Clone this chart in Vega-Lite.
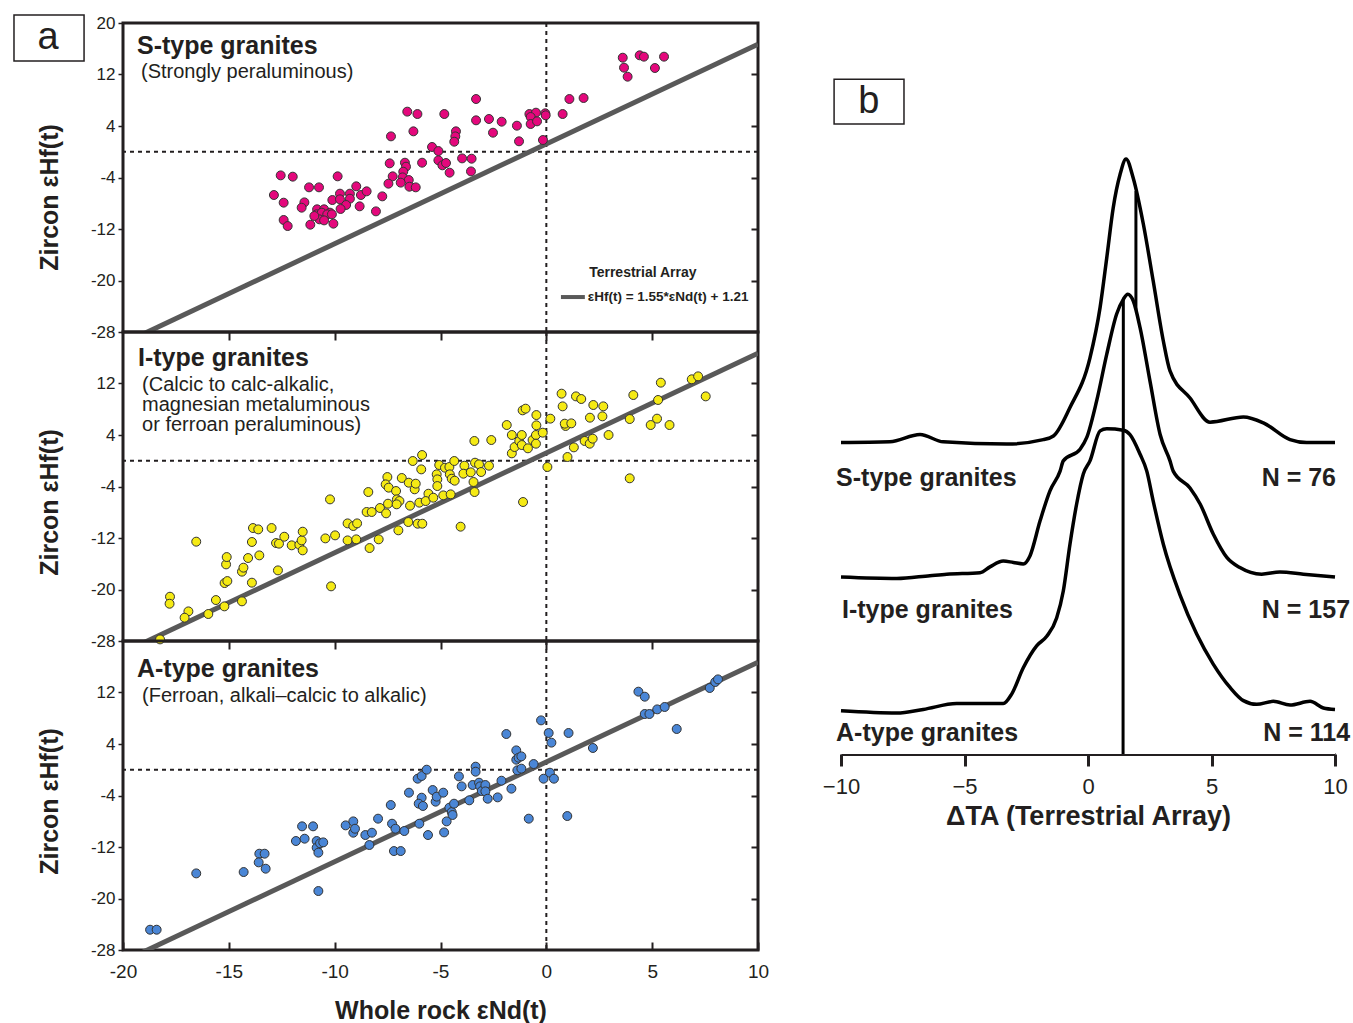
{
  "$schema": "https://vega.github.io/schema/vega-lite/v6.json",
  "background": "white",
  "padding": {"left": 11, "top": 12, "right": 5, "bottom": 0},
  "spacing": 51,
  "datasets": {
    "pts": [
      {"type":"S","x":-6.57,"y":6.23},{"type":"S","x":-6.09,"y":5.86},{"type":"S","x":-6.28,"y":3.17},{"type":"S","x":-7.34,"y":2.39},
      {"type":"S","x":-5.40,"y":0.74},{"type":"S","x":-5.10,"y":0.11},{"type":"S","x":-5.10,"y":-1.33},{"type":"S","x":-7.40,"y":-1.80},
      {"type":"S","x":-6.68,"y":-1.70},{"type":"S","x":-6.63,"y":-2.32},{"type":"S","x":-6.76,"y":-3.10},{"type":"S","x":-5.87,"y":-1.70},
      {"type":"S","x":-7.26,"y":-3.82},{"type":"S","x":-6.79,"y":-3.98},{"type":"S","x":-6.50,"y":-4.39},{"type":"S","x":-6.88,"y":-4.80},
      {"type":"S","x":-6.47,"y":-5.43},{"type":"S","x":-6.17,"y":-5.53},{"type":"S","x":-7.46,"y":-4.96},{"type":"S","x":-7.75,"y":-6.93},
      {"type":"S","x":-8.05,"y":-9.26},{"type":"S","x":-12.55,"y":-3.67},{"type":"S","x":-11.98,"y":-3.87},{"type":"S","x":-9.86,"y":-3.82},
      {"type":"S","x":-11.21,"y":-5.53},{"type":"S","x":-10.74,"y":-5.53},{"type":"S","x":-8.98,"y":-5.37},{"type":"S","x":-12.87,"y":-6.72},
      {"type":"S","x":-12.41,"y":-7.91},{"type":"S","x":-11.43,"y":-7.86},{"type":"S","x":-11.56,"y":-8.69},{"type":"S","x":-9.75,"y":-6.51},
      {"type":"S","x":-10.11,"y":-7.50},{"type":"S","x":-9.75,"y":-7.39},{"type":"S","x":-9.28,"y":-6.51},{"type":"S","x":-9.28,"y":-7.29},
      {"type":"S","x":-9.46,"y":-8.27},{"type":"S","x":-9.72,"y":-8.89},{"type":"S","x":-8.76,"y":-6.72},{"type":"S","x":-8.49,"y":-6.15},
      {"type":"S","x":-8.82,"y":-8.48},{"type":"S","x":-10.83,"y":-8.94},{"type":"S","x":-10.50,"y":-8.94},{"type":"S","x":-10.85,"y":-9.72},
      {"type":"S","x":-10.61,"y":-9.46},{"type":"S","x":-10.22,"y":-9.46},{"type":"S","x":-10.35,"y":-9.72},{"type":"S","x":-10.72,"y":-10.50},
      {"type":"S","x":-10.50,"y":-10.66},{"type":"S","x":-10.13,"y":-9.72},{"type":"S","x":-12.41,"y":-10.60},{"type":"S","x":-12.22,"y":-11.54},
      {"type":"S","x":-11.15,"y":-11.33},{"type":"S","x":-10.06,"y":-11.17},{"type":"S","x":-10.96,"y":-9.98},
      {"type":"S","x":3.61,"y":14.61},{"type":"S","x":3.67,"y":13.06},{"type":"S","x":3.84,"y":11.66},{"type":"S","x":4.41,"y":14.98},
      {"type":"S","x":4.61,"y":14.77},{"type":"S","x":5.13,"y":13.01},{"type":"S","x":5.56,"y":14.77},{"type":"S","x":-3.32,"y":8.19},
      {"type":"S","x":-4.82,"y":5.86},{"type":"S","x":-4.27,"y":3.17},{"type":"S","x":-4.30,"y":2.39},{"type":"S","x":-4.35,"y":1.56},
      {"type":"S","x":-3.32,"y":4.88},{"type":"S","x":-2.71,"y":5.09},{"type":"S","x":-2.52,"y":2.96},{"type":"S","x":-2.11,"y":4.67},
      {"type":"S","x":-1.39,"y":4.05},{"type":"S","x":-1.29,"y":1.62},{"type":"S","x":-0.80,"y":5.86},{"type":"S","x":-0.49,"y":6.07},
      {"type":"S","x":-0.05,"y":5.97},{"type":"S","x":-0.03,"y":5.66},{"type":"S","x":-0.74,"y":5.40},{"type":"S","x":-0.74,"y":4.31},
      {"type":"S","x":-0.44,"y":4.72},{"type":"S","x":0.77,"y":5.86},{"type":"S","x":1.09,"y":8.19},{"type":"S","x":1.76,"y":8.35},
      {"type":"S","x":-0.16,"y":1.82},{"type":"S","x":-4.91,"y":-2.11},{"type":"S","x":-4.74,"y":-1.75},{"type":"S","x":-4.57,"y":-3.25},
      {"type":"S","x":-3.98,"y":-1.03},{"type":"S","x":-3.53,"y":-1.08},{"type":"S","x":-3.56,"y":-3.05},

      {"type":"I","x":-18.25,"y":-27.75},{"type":"I","x":-17.78,"y":-21.12},{"type":"I","x":-17.80,"y":-22.21},{"type":"I","x":-16.91,"y":-23.40},
      {"type":"I","x":-17.09,"y":-24.38},{"type":"I","x":-16.54,"y":-12.57},{"type":"I","x":-15.97,"y":-23.81},{"type":"I","x":-15.61,"y":-21.64},
      {"type":"I","x":-15.21,"y":-22.62},{"type":"I","x":-15.20,"y":-19.00},{"type":"I","x":-15.07,"y":-18.69},{"type":"I","x":-15.13,"y":-16.10},
      {"type":"I","x":-15.10,"y":-14.96},{"type":"I","x":-14.38,"y":-21.84},{"type":"I","x":-13.91,"y":-18.94},{"type":"I","x":-14.38,"y":-17.23},
      {"type":"I","x":-14.31,"y":-16.61},{"type":"I","x":-14.09,"y":-15.11},{"type":"I","x":-13.91,"y":-12.62},{"type":"I","x":-13.86,"y":-10.45},
      {"type":"I","x":-13.61,"y":-10.66},{"type":"I","x":-13.56,"y":-14.70},{"type":"I","x":-12.98,"y":-10.45},{"type":"I","x":-12.68,"y":-17.03},
      {"type":"I","x":-12.77,"y":-12.78},{"type":"I","x":-12.63,"y":-12.88},{"type":"I","x":-12.38,"y":-11.80},{"type":"I","x":-12.03,"y":-13.14},
      {"type":"I","x":-11.67,"y":-13.04},{"type":"I","x":-11.56,"y":-12.37},{"type":"I","x":-11.51,"y":-11.02},{"type":"I","x":-11.51,"y":-13.92},
      {"type":"I","x":-10.22,"y":-6.00},{"type":"I","x":-10.17,"y":-19.51},{"type":"I","x":-10.44,"y":-12.06},{"type":"I","x":-9.98,"y":-11.59},
      {"type":"I","x":-9.39,"y":-9.73},{"type":"I","x":-9.12,"y":-10.14},{"type":"I","x":-8.94,"y":-9.73},{"type":"I","x":-9.39,"y":-12.37},
      {"type":"I","x":-8.98,"y":-12.21},{"type":"I","x":-8.41,"y":-4.86},{"type":"I","x":-8.49,"y":-7.96},{"type":"I","x":-8.25,"y":-7.96},
      {"type":"I","x":-8.35,"y":-13.56},{"type":"I","x":-7.92,"y":-12.21},{"type":"I","x":-7.86,"y":-7.34},{"type":"I","x":-7.57,"y":-8.17},
      {"type":"I","x":-7.48,"y":-6.67},{"type":"I","x":-7.51,"y":-2.53},{"type":"I","x":-7.59,"y":-3.67},{"type":"I","x":-7.45,"y":-4.18},
      {"type":"I","x":-7.10,"y":-4.70},{"type":"I","x":-7.06,"y":-6.00},{"type":"I","x":-6.94,"y":-6.26},{"type":"I","x":-7.07,"y":-6.77},
      {"type":"I","x":-6.99,"y":-10.81},{"type":"I","x":-6.83,"y":-2.68},{"type":"I","x":-6.50,"y":-3.41},{"type":"I","x":-6.22,"y":-4.44},
      {"type":"I","x":-6.17,"y":-3.56},{"type":"I","x":-6.44,"y":-6.98},{"type":"I","x":-6.52,"y":-9.52},{"type":"I","x":-6.08,"y":-9.78},
      {"type":"I","x":-5.86,"y":-9.78},{"type":"I","x":-6.00,"y":-6.51},{"type":"I","x":-6.31,"y":-0.04},{"type":"I","x":-5.87,"y":0.89},
      {"type":"I","x":-5.91,"y":-1.34},{"type":"I","x":-5.57,"y":-5.12},{"type":"I","x":-5.70,"y":-6.26},{"type":"I","x":-5.34,"y":-5.74},
      {"type":"I","x":-5.18,"y":-2.11},{"type":"I","x":-5.15,"y":-2.89},{"type":"I","x":-5.15,"y":-3.93},{"type":"I","x":-5.06,"y":-0.66},
      {"type":"I","x":-4.79,"y":-1.08},{"type":"I","x":-4.58,"y":-0.97},{"type":"I","x":-4.35,"y":-0.04},{"type":"I","x":-4.56,"y":-2.11},
      {"type":"I","x":-4.47,"y":-2.79},{"type":"I","x":-4.33,"y":-3.10},{"type":"I","x":-4.87,"y":-5.38},{"type":"I","x":-4.52,"y":-5.22},
      {"type":"I","x":-3.87,"y":-0.77},{"type":"I","x":-3.92,"y":-2.01},{"type":"I","x":-3.57,"y":-1.80},{"type":"I","x":-3.37,"y":-0.30},
      {"type":"I","x":-3.18,"y":-0.56},{"type":"I","x":-3.08,"y":-1.75},{"type":"I","x":-3.44,"y":-3.30},{"type":"I","x":-3.39,"y":-4.86},
      {"type":"I","x":-2.71,"y":-0.77},{"type":"I","x":-3.40,"y":3.07},{"type":"I","x":-2.60,"y":3.22},{"type":"I","x":-4.05,"y":-10.24},
      {"type":"I","x":-1.87,"y":5.55},{"type":"I","x":-1.63,"y":4.00},{"type":"I","x":-1.63,"y":1.15},{"type":"I","x":-1.50,"y":2.13},
      {"type":"I","x":-1.28,"y":3.07},{"type":"I","x":-1.16,"y":4.00},{"type":"I","x":-1.16,"y":2.44},{"type":"I","x":-0.87,"y":1.93},
      {"type":"I","x":-1.12,"y":7.83},{"type":"I","x":-0.98,"y":8.09},{"type":"I","x":-0.65,"y":3.22},{"type":"I","x":-0.49,"y":4.00},
      {"type":"I","x":-0.49,"y":2.65},{"type":"I","x":-0.47,"y":5.50},{"type":"I","x":-0.47,"y":7.10},{"type":"I","x":-0.17,"y":4.36},
      {"type":"I","x":-1.10,"y":-6.41},{"type":"I","x":0.05,"y":-0.97},{"type":"I","x":0.19,"y":6.54},{"type":"I","x":0.72,"y":10.42},
      {"type":"I","x":0.77,"y":8.45},{"type":"I","x":0.91,"y":5.40},{"type":"I","x":0.87,"y":5.76},{"type":"I","x":1.18,"y":5.81},
      {"type":"I","x":1.00,"y":0.58},{"type":"I","x":1.30,"y":2.08},{"type":"I","x":1.40,"y":10.00},{"type":"I","x":1.65,"y":9.59},
      {"type":"I","x":1.81,"y":3.07},{"type":"I","x":2.05,"y":2.65},{"type":"I","x":2.19,"y":3.43},{"type":"I","x":2.06,"y":6.69},
      {"type":"I","x":2.22,"y":8.66},{"type":"I","x":2.65,"y":6.90},{"type":"I","x":2.69,"y":8.45},{"type":"I","x":2.94,"y":4.00},
      {"type":"I","x":3.94,"y":-2.73},{"type":"I","x":3.94,"y":6.48},{"type":"I","x":4.11,"y":10.21},{"type":"I","x":4.93,"y":5.55},
      {"type":"I","x":5.23,"y":6.54},{"type":"I","x":5.28,"y":9.44},{"type":"I","x":5.41,"y":12.13},{"type":"I","x":5.82,"y":5.55},
      {"type":"I","x":6.87,"y":12.65},{"type":"I","x":7.17,"y":13.11},{"type":"I","x":7.53,"y":10.00},

      {"type":"A","x":-18.72,"y":-24.85},{"type":"A","x":-18.41,"y":-24.85},{"type":"A","x":-16.54,"y":-16.10},{"type":"A","x":-14.30,"y":-15.89},
      {"type":"A","x":-13.56,"y":-13.04},{"type":"A","x":-13.31,"y":-13.04},{"type":"A","x":-13.59,"y":-14.39},{"type":"A","x":-13.26,"y":-15.37},
      {"type":"A","x":-11.83,"y":-11.07},{"type":"A","x":-11.54,"y":-8.79},{"type":"A","x":-11.42,"y":-10.71},{"type":"A","x":-11.02,"y":-8.79},
      {"type":"A","x":-10.85,"y":-11.07},{"type":"A","x":-10.85,"y":-12.11},{"type":"A","x":-10.69,"y":-11.43},{"type":"A","x":-10.54,"y":-11.28},
      {"type":"A","x":-10.77,"y":-12.88},{"type":"A","x":-10.77,"y":-18.84},{"type":"A","x":-9.48,"y":-8.64},{"type":"A","x":-9.12,"y":-8.02},
      {"type":"A","x":-9.12,"y":-9.78},{"type":"A","x":-9.04,"y":-9.16},{"type":"A","x":-8.55,"y":-10.14},{"type":"A","x":-8.24,"y":-9.78},
      {"type":"A","x":-8.36,"y":-11.69},{"type":"A","x":-7.95,"y":-7.60},{"type":"A","x":-7.35,"y":-5.48},{"type":"A","x":-7.29,"y":-8.38},
      {"type":"A","x":-7.13,"y":-9.16},{"type":"A","x":-6.71,"y":-9.52},{"type":"A","x":-7.20,"y":-12.63},{"type":"A","x":-6.88,"y":-12.63},
      {"type":"A","x":-6.49,"y":-3.56},{"type":"A","x":-6.08,"y":-1.39},{"type":"A","x":-5.89,"y":-0.97},{"type":"A","x":-5.65,"y":0.01},
      {"type":"A","x":-5.89,"y":-4.34},{"type":"A","x":-6.03,"y":-5.27},{"type":"A","x":-5.83,"y":-5.63},{"type":"A","x":-6.00,"y":-8.38},
      {"type":"A","x":-5.59,"y":-10.14},{"type":"A","x":-5.37,"y":-3.15},{"type":"A","x":-5.23,"y":-4.96},{"type":"A","x":-5.18,"y":-4.18},
      {"type":"A","x":-4.87,"y":-3.56},{"type":"A","x":-4.83,"y":-9.73},{"type":"A","x":-4.71,"y":-8.02},{"type":"A","x":-4.58,"y":-5.89},
      {"type":"A","x":-4.47,"y":-6.57},{"type":"A","x":-4.43,"y":-7.03},{"type":"A","x":-4.36,"y":-5.27},{"type":"A","x":-4.13,"y":-1.03},
      {"type":"A","x":-4.00,"y":-2.58},{"type":"A","x":-3.64,"y":-4.75},{"type":"A","x":-3.48,"y":-2.37},{"type":"A","x":-3.34,"y":0.48},
      {"type":"A","x":-3.34,"y":-0.30},{"type":"A","x":-3.18,"y":-2.01},{"type":"A","x":-3.13,"y":-2.58},{"type":"A","x":-3.05,"y":-3.30},
      {"type":"A","x":-2.88,"y":-2.37},{"type":"A","x":-2.88,"y":-3.36},{"type":"A","x":-2.77,"y":-4.50},{"type":"A","x":-2.30,"y":-4.29},
      {"type":"A","x":-2.12,"y":-1.70},{"type":"A","x":-1.89,"y":5.55},{"type":"A","x":-1.65,"y":-2.94},{"type":"A","x":-1.42,"y":3.01},
      {"type":"A","x":-1.42,"y":1.56},{"type":"A","x":-1.31,"y":1.87},{"type":"A","x":-1.18,"y":2.08},{"type":"A","x":-1.37,"y":-0.09},
      {"type":"A","x":-1.18,"y":0.17},{"type":"A","x":-0.83,"y":-7.60},{"type":"A","x":-0.60,"y":0.89},{"type":"A","x":-0.25,"y":7.67},
      {"type":"A","x":-0.13,"y":-1.39},{"type":"A","x":0.11,"y":5.71},{"type":"A","x":0.24,"y":4.21},{"type":"A","x":0.17,"y":-0.46},
      {"type":"A","x":0.36,"y":-1.39},{"type":"A","x":1.05,"y":5.71},{"type":"A","x":0.99,"y":-7.19},{"type":"A","x":2.20,"y":3.38},
      {"type":"A","x":4.35,"y":12.13},{"type":"A","x":4.65,"y":11.35},{"type":"A","x":4.65,"y":8.66},{"type":"A","x":4.87,"y":8.66},
      {"type":"A","x":5.24,"y":9.38},{"type":"A","x":5.59,"y":9.75},{"type":"A","x":6.16,"y":6.33},{"type":"A","x":7.72,"y":12.70},
      {"type":"A","x":7.98,"y":13.63},{"type":"A","x":8.11,"y":14.04}
    ],
    "ta": [{"x": -20, "y": -29.79}, {"x": 10, "y": 16.71}],
    "dens": [
      {"s":"S","x":-10.0,"y":42.6},{"s":"S","x":-8.02,"y":42.7},{"s":"S","x":-6.8,"y":43.7},{"s":"S","x":-5.86,"y":42.7},
      {"s":"S","x":-3.29,"y":42.4},{"s":"S","x":-1.81,"y":43.0},{"s":"S","x":-1.40,"y":43.5},{"s":"S","x":-0.73,"y":47.4},
      {"s":"S","x":0.08,"y":54.2},{"s":"S","x":0.49,"y":61.1},{"s":"S","x":0.76,"y":67.9},{"s":"S","x":1.02,"y":74.7},
      {"s":"S","x":1.30,"y":79.3},{"s":"S","x":1.54,"y":81.4},{"s":"S","x":1.83,"y":78.8},{"s":"S","x":2.24,"y":72.5},
      {"s":"S","x":2.64,"y":64.7},{"s":"S","x":3.05,"y":56.5},{"s":"S","x":3.32,"y":52.4},{"s":"S","x":4.13,"y":48.7},
      {"s":"S","x":4.94,"y":45.4},{"s":"S","x":6.29,"y":46.1},{"s":"S","x":7.10,"y":45.3},{"s":"S","x":8.18,"y":43.0},
      {"s":"S","x":8.85,"y":42.6},{"s":"S","x":10.0,"y":42.6},
      {"s":"I","x":-10.0,"y":24.2},{"s":"I","x":-7.74,"y":24.0},{"s":"I","x":-6.40,"y":24.4},{"s":"I","x":-5.72,"y":24.6},
      {"s":"I","x":-4.37,"y":24.8},{"s":"I","x":-3.97,"y":25.6},{"s":"I","x":-3.43,"y":26.4},{"s":"I","x":-3.02,"y":26.2},
      {"s":"I","x":-2.62,"y":26.0},{"s":"I","x":-2.35,"y":27.1},{"s":"I","x":-1.94,"y":31.9},{"s":"I","x":-1.54,"y":36.0},
      {"s":"I","x":-1.13,"y":38.7},{"s":"I","x":-1.00,"y":40.1},{"s":"I","x":-0.32,"y":41.7},{"s":"I","x":-0.05,"y":43.3},
      {"s":"I","x":0.35,"y":48.3},{"s":"I","x":0.76,"y":54.7},{"s":"I","x":1.16,"y":60.2},{"s":"I","x":1.43,"y":62.2},
      {"s":"I","x":1.61,"y":62.9},{"s":"I","x":1.83,"y":62.0},{"s":"I","x":2.11,"y":58.3},{"s":"I","x":2.51,"y":51.0},
      {"s":"I","x":2.92,"y":43.7},{"s":"I","x":3.32,"y":40.1},{"s":"I","x":3.45,"y":38.7},{"s":"I","x":4.13,"y":36.4},
      {"s":"I","x":4.54,"y":34.2},{"s":"I","x":5.07,"y":30.1},{"s":"I","x":5.62,"y":26.9},{"s":"I","x":6.15,"y":25.5},
      {"s":"I","x":7.03,"y":24.6},{"s":"I","x":7.77,"y":24.9},{"s":"I","x":8.72,"y":24.6},{"s":"I","x":10.0,"y":24.2},
      {"s":"A","x":-10.0,"y":5.9},{"s":"A","x":-7.74,"y":5.6},{"s":"A","x":-6.67,"y":6.1},{"s":"A","x":-5.32,"y":6.9},
      {"s":"A","x":-3.43,"y":6.9},{"s":"A","x":-3.09,"y":8.2},{"s":"A","x":-2.62,"y":11.8},{"s":"A","x":-2.08,"y":14.8},
      {"s":"A","x":-1.67,"y":16.1},{"s":"A","x":-1.27,"y":18.6},{"s":"A","x":-1.00,"y":22.3},{"s":"A","x":-0.73,"y":28.7},
      {"s":"A","x":-0.46,"y":34.2},{"s":"A","x":-0.19,"y":38.3},{"s":"A","x":0.08,"y":40.1},{"s":"A","x":0.49,"y":44.2},
      {"s":"A","x":0.76,"y":44.5},{"s":"A","x":1.43,"y":44.3},{"s":"A","x":1.70,"y":43.7},{"s":"A","x":2.11,"y":41.0},
      {"s":"A","x":2.38,"y":38.7},{"s":"A","x":2.64,"y":34.6},{"s":"A","x":3.05,"y":28.7},{"s":"A","x":3.72,"y":21.8},
      {"s":"A","x":4.40,"y":16.4},{"s":"A","x":5.07,"y":12.3},{"s":"A","x":5.75,"y":9.1},{"s":"A","x":6.29,"y":7.3},
      {"s":"A","x":6.83,"y":6.8},{"s":"A","x":7.50,"y":7.2},{"s":"A","x":8.18,"y":6.7},{"s":"A","x":8.99,"y":7.2},
      {"s":"A","x":9.53,"y":6.3},{"s":"A","x":10.0,"y":6.1}
    ],
    "med": [
      {"s":"S","x":1.94,"lo":42.6,"hi":77.0},
      {"s":"I","x":1.43,"lo":24.2,"hi":62.2},
      {"s":"A","x":1.42,"lo":0,"hi":44.3}
    ]
  },
  "hconcat": [
    {
      "spacing": 0,
      "bounds": "flush",
      "vconcat": [
        {
          "width": 635, "height": 309,
          "view": {"stroke": "#231f20", "strokeWidth": 3},
          "resolve": {"axis": {"x": "independent", "y": "independent"}},
          "layer": [
            {"data": {"values": [{}]}, "mark": {"type": "rule", "strokeDash": [4, 4], "strokeWidth": 2, "color": "#231f20"},
             "encoding": {"x": {"datum": 0, "type": "quantitative", "scale": {"domain": [-20, 10], "nice": false, "zero": false}, "axis": null}}},
            {"data": {"values": [{}]}, "mark": {"type": "rule", "strokeDash": [4, 4], "strokeWidth": 2, "color": "#231f20"},
             "encoding": {"y": {"datum": 0, "type": "quantitative", "scale": {"domain": [-28, 20], "nice": false, "zero": false}, "axis": null}}},
            {"data": {"name": "ta"}, "mark": {"type": "line", "color": "#595959", "strokeWidth": 5, "clip": true},
             "encoding": {
               "x": {"field": "x", "type": "quantitative", "scale": {"domain": [-20, 10], "nice": false, "zero": false}, "axis": null},
               "y": {"field": "y", "type": "quantitative", "scale": {"domain": [-28, 20], "nice": false, "zero": false},
                     "axis": {"orient": "right", "values": [-20, -12, -4, 4, 12], "labels": false, "domain": false, "tickSize": -7, "tickWidth": 2, "title": null, "grid": false}}}},
            {"data": {"name": "pts"}, "transform": [{"filter": "datum.type === 'S'"}],
             "mark": {"type": "circle", "size": 80, "color": "#e4087c", "stroke": "#333333", "strokeWidth": 1, "opacity": 1},
             "encoding": {
               "x": {"field": "x", "type": "quantitative", "scale": {"domain": [-20, 10], "nice": false, "zero": false}, "axis": null},
               "y": {"field": "y", "type": "quantitative", "scale": {"domain": [-28, 20], "nice": false, "zero": false},
                     "axis": {"orient": "left", "values": [-28, -20, -12, -4, 4, 12, 20], "tickSize": 5, "tickWidth": 1.5, "domain": false, "grid": false,
                              "labelFontSize": 17, "labelPadding": 3, "labelExpr": "datum.value < 0 ? '-' + abs(datum.value) : '' + datum.value",
                              "title": "Zircon εHf(t)", "titleFontSize": 25, "titleFontWeight": "bold", "titlePadding": 28, "titleY": 174}}}},
            {"data": {"values": [{}]}, "mark": {"type": "text", "text": "S-type granites", "align": "left", "baseline": "middle", "fontSize": 25, "fontWeight": "bold", "clip": false},
             "encoding": {"x": {"datum": -19.34, "axis": null}, "y": {"datum": 16.43, "axis": null}}},
            {"data": {"values": [{}]}, "mark": {"type": "text", "text": "(Strongly peraluminous)", "align": "left", "baseline": "middle", "fontSize": 20, "clip": false},
             "encoding": {"x": {"datum": -19.15, "axis": null}, "y": {"datum": 12.4, "axis": null}}},
            {"data": {"values": [{}]}, "mark": {"type": "text", "text": "Terrestrial Array", "align": "center", "baseline": "middle", "fontSize": 14, "fontWeight": "bold", "clip": false},
             "encoding": {"x": {"datum": 4.56, "axis": null}, "y": {"datum": -18.84, "axis": null}}},
            {"data": {"values": [{}]}, "mark": {"type": "rule", "color": "#595959", "strokeWidth": 4},
             "encoding": {"x": {"datum": 0.69, "axis": null}, "x2": {"datum": 1.82}, "y": {"datum": -22.57, "axis": null}}},
            {"data": {"values": [{}]}, "mark": {"type": "text", "text": "εHf(t) = 1.55*εNd(t) + 1.21", "align": "left", "baseline": "middle", "fontSize": 13.5, "fontWeight": "bold", "clip": false},
             "encoding": {"x": {"datum": 1.96, "axis": null}, "y": {"datum": -22.57, "axis": null}}},
            {"data": {"values": [{}]}, "mark": {"type": "rect", "fill": "white", "stroke": "#231f20", "strokeWidth": 1.5, "clip": false},
             "encoding": {"x": {"datum": -25.15, "axis": null}, "x2": {"datum": -21.84}, "y": {"datum": 21.24, "axis": null}, "y2": {"datum": 14.10}}},
            {"data": {"values": [{}]}, "mark": {"type": "text", "text": "a", "align": "center", "baseline": "middle", "fontSize": 38, "clip": false},
             "encoding": {"x": {"datum": -23.54, "axis": null}, "y": {"datum": 17.7, "axis": null}}}
          ]
        },
        {
          "width": 635, "height": 309,
          "view": {"stroke": "#231f20", "strokeWidth": 3},
          "resolve": {"axis": {"x": "independent", "y": "independent"}},
          "layer": [
            {"data": {"values": [{}]}, "mark": {"type": "rule", "strokeDash": [4, 4], "strokeWidth": 2, "color": "#231f20"},
             "encoding": {"x": {"datum": 0, "type": "quantitative", "scale": {"domain": [-20, 10], "nice": false, "zero": false}, "axis": null}}},
            {"data": {"values": [{}]}, "mark": {"type": "rule", "strokeDash": [4, 4], "strokeWidth": 2, "color": "#231f20"},
             "encoding": {"y": {"datum": 0, "type": "quantitative", "scale": {"domain": [-28, 20], "nice": false, "zero": false}, "axis": null}}},
            {"data": {"name": "ta"}, "mark": {"type": "line", "color": "#595959", "strokeWidth": 5, "clip": true},
             "encoding": {
               "x": {"field": "x", "type": "quantitative", "scale": {"domain": [-20, 10], "nice": false, "zero": false},
                     "axis": {"orient": "top", "values": [-15, -10, -5, 0, 5], "labels": false, "domain": false, "tickSize": -8, "tickWidth": 2, "title": null, "grid": false}},
               "y": {"field": "y", "type": "quantitative", "scale": {"domain": [-28, 20], "nice": false, "zero": false},
                     "axis": {"orient": "right", "values": [-20, -12, -4, 4, 12], "labels": false, "domain": false, "tickSize": -7, "tickWidth": 2, "title": null, "grid": false}}}},
            {"data": {"name": "pts"}, "transform": [{"filter": "datum.type === 'I'"}],
             "mark": {"type": "circle", "size": 80, "color": "#f5ea14", "stroke": "#333333", "strokeWidth": 1, "opacity": 1},
             "encoding": {
               "x": {"field": "x", "type": "quantitative", "scale": {"domain": [-20, 10], "nice": false, "zero": false}, "axis": null},
               "y": {"field": "y", "type": "quantitative", "scale": {"domain": [-28, 20], "nice": false, "zero": false},
                     "axis": {"orient": "left", "values": [-28, -20, -12, -4, 4, 12], "tickSize": 5, "tickWidth": 1.5, "domain": false, "grid": false,
                              "labelFontSize": 17, "labelPadding": 3, "labelExpr": "datum.value < 0 ? '-' + abs(datum.value) : '' + datum.value",
                              "title": "Zircon εHf(t)", "titleFontSize": 25, "titleFontWeight": "bold", "titlePadding": 28, "titleY": 170}}}},
            {"data": {"values": [{}]}, "mark": {"type": "text", "text": "I-type granites", "align": "left", "baseline": "middle", "fontSize": 25, "fontWeight": "bold", "clip": false},
             "encoding": {"x": {"datum": -19.29, "axis": null}, "y": {"datum": 15.96, "axis": null}}},
            {"data": {"values": [{}]}, "mark": {"type": "text", "text": "(Calcic to calc-alkalic,", "align": "left", "baseline": "middle", "fontSize": 20, "clip": false},
             "encoding": {"x": {"datum": -19.1, "axis": null}, "y": {"datum": 11.77, "axis": null}}},
            {"data": {"values": [{}]}, "mark": {"type": "text", "text": "magnesian metaluminous", "align": "left", "baseline": "middle", "fontSize": 20, "clip": false},
             "encoding": {"x": {"datum": -19.1, "axis": null}, "y": {"datum": 8.66, "axis": null}}},
            {"data": {"values": [{}]}, "mark": {"type": "text", "text": "or ferroan peraluminous)", "align": "left", "baseline": "middle", "fontSize": 20, "clip": false},
             "encoding": {"x": {"datum": -19.1, "axis": null}, "y": {"datum": 5.55, "axis": null}}}
          ]
        },
        {
          "width": 635, "height": 309,
          "view": {"stroke": "#231f20", "strokeWidth": 3},
          "resolve": {"axis": {"x": "independent", "y": "independent"}},
          "layer": [
            {"data": {"values": [{}]}, "mark": {"type": "rule", "strokeDash": [4, 4], "strokeWidth": 2, "color": "#231f20"},
             "encoding": {"x": {"datum": 0, "type": "quantitative", "scale": {"domain": [-20, 10], "nice": false, "zero": false}, "axis": null}}},
            {"data": {"values": [{}]}, "mark": {"type": "rule", "strokeDash": [4, 4], "strokeWidth": 2, "color": "#231f20"},
             "encoding": {"y": {"datum": 0, "type": "quantitative", "scale": {"domain": [-28, 20], "nice": false, "zero": false}, "axis": null}}},
            {"data": {"name": "ta"}, "mark": {"type": "line", "color": "#595959", "strokeWidth": 5, "clip": true},
             "encoding": {
               "x": {"field": "x", "type": "quantitative", "scale": {"domain": [-20, 10], "nice": false, "zero": false},
                     "axis": {"orient": "top", "values": [-15, -10, -5, 0, 5], "labels": false, "domain": false, "tickSize": -8, "tickWidth": 2, "title": null, "grid": false}},
               "y": {"field": "y", "type": "quantitative", "scale": {"domain": [-28, 20], "nice": false, "zero": false},
                     "axis": {"orient": "right", "values": [-20, -12, -4, 4, 12], "labels": false, "domain": false, "tickSize": -7, "tickWidth": 2, "title": null, "grid": false}}}},
            {"data": {"name": "pts"}, "transform": [{"filter": "datum.type === 'A'"}],
             "mark": {"type": "circle", "size": 80, "color": "#4a86d6", "stroke": "#333333", "strokeWidth": 1, "opacity": 1},
             "encoding": {
               "x": {"field": "x", "type": "quantitative", "scale": {"domain": [-20, 10], "nice": false, "zero": false},
                     "axis": {"orient": "bottom", "values": [-20, -15, -10, -5, 0, 5, 10], "tickSize": -8, "tickWidth": 2, "domain": false, "grid": false,
                              "labelFontSize": 19, "labelPadding": 20, "labelFlush": false, "labelOverlap": false,
                              "labelExpr": "datum.value < 0 ? '-' + abs(datum.value) : '' + datum.value",
                              "title": "Whole rock εNd(t)", "titleFontSize": 25, "titleFontWeight": "bold", "titlePadding": 17}},
               "y": {"field": "y", "type": "quantitative", "scale": {"domain": [-28, 20], "nice": false, "zero": false},
                     "axis": {"orient": "left", "values": [-28, -20, -12, -4, 4, 12], "tickSize": 5, "tickWidth": 1.5, "domain": false, "grid": false,
                              "labelFontSize": 17, "labelPadding": 3, "labelExpr": "datum.value < 0 ? '-' + abs(datum.value) : '' + datum.value",
                              "title": "Zircon εHf(t)", "titleFontSize": 25, "titleFontWeight": "bold", "titlePadding": 28, "titleY": 160}}}},
            {"data": {"values": [{}]}, "mark": {"type": "text", "text": "A-type granites", "align": "left", "baseline": "middle", "fontSize": 25, "fontWeight": "bold", "clip": false},
             "encoding": {"x": {"datum": -19.34, "axis": null}, "y": {"datum": 15.65, "axis": null}}},
            {"data": {"values": [{}]}, "mark": {"type": "text", "text": "(Ferroan, alkali–calcic to alkalic)", "align": "left", "baseline": "middle", "fontSize": 20, "clip": false},
             "encoding": {"x": {"datum": -19.1, "axis": null}, "y": {"datum": 11.46, "axis": null}}}
          ]
        }
      ]
    },
    {
      "width": 494, "height": 731,
      "view": {"stroke": null},
      "resolve": {"axis": {"x": "independent", "y": "independent"}},
      "layer": [
        {"data": {"name": "dens"}, "transform": [{"filter": "datum.s === 'S'"}],
         "mark": {"type": "area", "fill": "white", "interpolate": "monotone"},
         "encoding": {
           "x": {"field": "x", "type": "quantitative", "scale": {"domain": [-10, 10], "nice": false, "zero": false},
                 "axis": {"values": [-10, -5, 0, 5, 10], "domainWidth": 3, "tickSize": 12, "tickWidth": 3, "grid": false,
                          "labelFontSize": 22, "labelPadding": 10, "labelFlush": false, "labelOverlap": false,
                          "title": "ΔTA (Terrestrial Array)", "titleFontSize": 27, "titleFontWeight": "bold", "titlePadding": 6}},
           "y": {"field": "y", "type": "quantitative", "scale": {"domain": [0, 100], "nice": false}, "axis": null}}},
        {"data": {"name": "dens"}, "transform": [{"filter": "datum.s === 'S'"}],
         "mark": {"type": "line", "color": "black", "strokeWidth": 3.5, "interpolate": "monotone"},
         "encoding": {"x": {"field": "x", "type": "quantitative", "axis": null}, "y": {"field": "y", "type": "quantitative", "axis": null}}},
        {"data": {"name": "med"}, "transform": [{"filter": "datum.s === 'S'"}],
         "mark": {"type": "rule", "color": "black", "strokeWidth": 3},
         "encoding": {"x": {"field": "x", "type": "quantitative", "axis": null}, "y": {"field": "lo", "type": "quantitative", "axis": null}, "y2": {"field": "hi"}}},
        {"data": {"name": "dens"}, "transform": [{"filter": "datum.s === 'I'"}],
         "mark": {"type": "area", "fill": "white", "interpolate": "monotone"},
         "encoding": {"x": {"field": "x", "type": "quantitative", "axis": null}, "y": {"field": "y", "type": "quantitative", "axis": null}}},
        {"data": {"name": "dens"}, "transform": [{"filter": "datum.s === 'I'"}],
         "mark": {"type": "line", "color": "black", "strokeWidth": 3.5, "interpolate": "monotone"},
         "encoding": {"x": {"field": "x", "type": "quantitative", "axis": null}, "y": {"field": "y", "type": "quantitative", "axis": null}}},
        {"data": {"name": "med"}, "transform": [{"filter": "datum.s === 'I'"}],
         "mark": {"type": "rule", "color": "black", "strokeWidth": 3},
         "encoding": {"x": {"field": "x", "type": "quantitative", "axis": null}, "y": {"field": "lo", "type": "quantitative", "axis": null}, "y2": {"field": "hi"}}},
        {"data": {"name": "dens"}, "transform": [{"filter": "datum.s === 'A'"}],
         "mark": {"type": "area", "fill": "white", "interpolate": "monotone"},
         "encoding": {"x": {"field": "x", "type": "quantitative", "axis": null}, "y": {"field": "y", "type": "quantitative", "axis": null}}},
        {"data": {"name": "dens"}, "transform": [{"filter": "datum.s === 'A'"}],
         "mark": {"type": "line", "color": "black", "strokeWidth": 3.5, "interpolate": "monotone"},
         "encoding": {"x": {"field": "x", "type": "quantitative", "axis": null}, "y": {"field": "y", "type": "quantitative", "axis": null}}},
        {"data": {"name": "med"}, "transform": [{"filter": "datum.s === 'A'"}],
         "mark": {"type": "rule", "color": "black", "strokeWidth": 3},
         "encoding": {"x": {"field": "x", "type": "quantitative", "axis": null}, "y": {"field": "lo", "type": "quantitative", "axis": null}, "y2": {"field": "hi"}}},
        {"data": {"values": [{}]}, "mark": {"type": "text", "text": "S-type granites", "align": "left", "baseline": "middle", "fontSize": 25, "fontWeight": "bold", "clip": false},
         "encoding": {"x": {"datum": -10.2, "axis": null}, "y": {"datum": 37.8, "axis": null}}},
        {"data": {"values": [{}]}, "mark": {"type": "text", "text": "I-type granites", "align": "left", "baseline": "middle", "fontSize": 25, "fontWeight": "bold", "clip": false},
         "encoding": {"x": {"datum": -9.96, "axis": null}, "y": {"datum": 19.7, "axis": null}}},
        {"data": {"values": [{}]}, "mark": {"type": "text", "text": "A-type granites", "align": "left", "baseline": "middle", "fontSize": 25, "fontWeight": "bold", "clip": false},
         "encoding": {"x": {"datum": -10.2, "axis": null}, "y": {"datum": 2.9, "axis": null}}},
        {"data": {"values": [{}]}, "mark": {"type": "text", "text": "N = 76", "align": "right", "baseline": "middle", "fontSize": 25, "fontWeight": "bold", "clip": false},
         "encoding": {"x": {"datum": 10.04, "axis": null}, "y": {"datum": 37.8, "axis": null}}},
        {"data": {"values": [{}]}, "mark": {"type": "text", "text": "N = 157", "align": "right", "baseline": "middle", "fontSize": 25, "fontWeight": "bold", "clip": false},
         "encoding": {"x": {"datum": 10.61, "axis": null}, "y": {"datum": 19.7, "axis": null}}},
        {"data": {"values": [{}]}, "mark": {"type": "text", "text": "N = 114", "align": "right", "baseline": "middle", "fontSize": 25, "fontWeight": "bold", "clip": false},
         "encoding": {"x": {"datum": 10.61, "axis": null}, "y": {"datum": 2.9, "axis": null}}},
        {"data": {"values": [{}]}, "mark": {"type": "rect", "fill": "white", "stroke": "#231f20", "strokeWidth": 1.5, "clip": false},
         "encoding": {"x": {"datum": -10.28, "axis": null}, "x2": {"datum": -7.45}, "y": {"datum": 92.3, "axis": null}, "y2": {"datum": 86.2}}},
        {"data": {"values": [{}]}, "mark": {"type": "text", "text": "b", "align": "center", "baseline": "middle", "fontSize": 38, "clip": false},
         "encoding": {"x": {"datum": -8.87, "axis": null}, "y": {"datum": 89.2, "axis": null}}}
      ]
    }
  ],
  "config": {
    "font": "Liberation Sans",
    "axis": {"labelFont": "Liberation Sans", "titleFont": "Liberation Sans", "labelColor": "#231f20", "titleColor": "#231f20",
             "tickColor": "#231f20", "domainColor": "#231f20", "grid": false},
    "text": {"font": "Liberation Sans", "color": "#231f20"}
  }
}
